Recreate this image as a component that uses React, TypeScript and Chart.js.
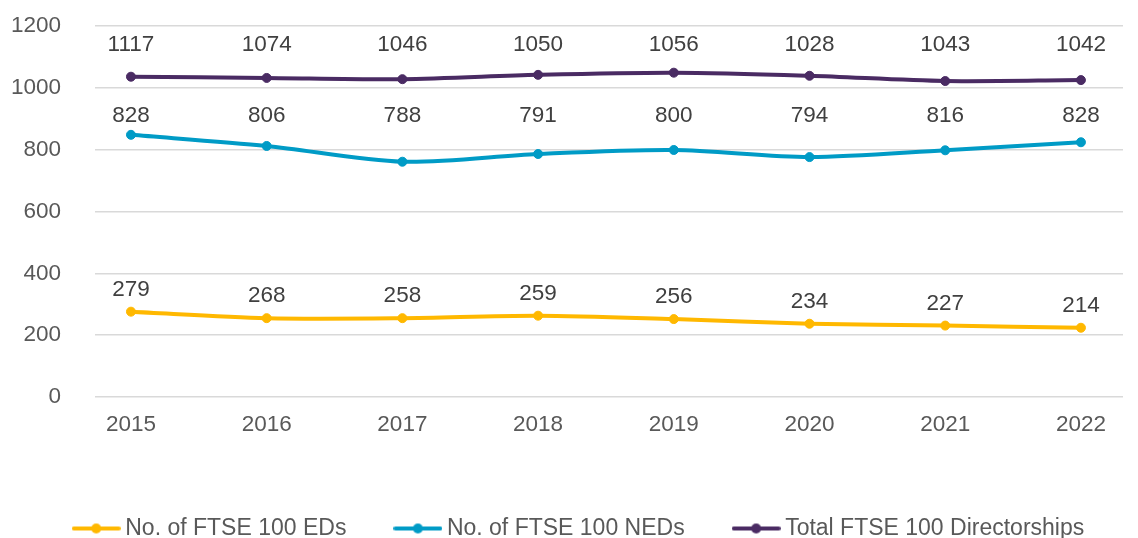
import React, { useEffect, useRef } from "react";
import { Chart, registerables } from "chart.js";

Chart.register(...registerables);

const years = ["2015", "2016", "2017", "2018", "2019", "2020", "2021", "2022"];

// plotted positions (as drawn in the reference)
const edValues = [276, 255, 255, 263, 252, 237, 231, 224];
const nedValues = [848, 812, 761, 786, 799, 776, 798, 824];
const totalValues = [1036, 1032, 1028, 1042, 1049, 1039, 1022, 1025];

// data label texts
const edLabels = ["279", "268", "258", "259", "256", "234", "227", "214"];
const nedLabels = ["828", "806", "788", "791", "800", "794", "816", "828"];
const totalLabels = ["1117", "1074", "1046", "1050", "1056", "1028", "1043", "1042"];

const yTicks = [0, 200, 400, 600, 800, 1000, 1200];

const seriesNames = ["No. of FTSE 100 EDs", "No. of FTSE 100 NEDs", "Total FTSE 100 Directorships"];

const YELLOW = "#FFB800";
const BLUE = "#009BC6";
const PURPLE = "#4A2B63";
const FONT = "'Liberation Sans', Arial, sans-serif";

function legendIcon(color: string): HTMLCanvasElement {
  const c = document.createElement("canvas");
  c.width = 49;
  c.height = 12;
  const ctx = c.getContext("2d")!;
  ctx.strokeStyle = color;
  ctx.lineWidth = 4;
  ctx.lineCap = "round";
  ctx.beginPath();
  ctx.moveTo(2, 6);
  ctx.lineTo(47, 6);
  ctx.stroke();
  ctx.fillStyle = color;
  ctx.beginPath();
  ctx.arc(24.5, 6, 5, 0, Math.PI * 2);
  ctx.fill();
  return c;
}

const labelPlugin = {
  id: "pointLabels",
  afterDatasetsDraw(chart: any) {
    const ctx = chart.ctx;
    ctx.save();
    ctx.font = `22.5px ${FONT}`;
    ctx.fillStyle = "#404040";
    ctx.textAlign = "center";
    ctx.textBaseline = "middle";
    chart.data.datasets.forEach((ds: any, i: number) => {
      const meta = chart.getDatasetMeta(i);
      const pts = meta.data;
      const minY = Math.min(...pts.map((p: any) => p.y));
      const level = minY - ds.labelLevelGap;
      pts.forEach((p: any, j: number) => {
        const y = Math.max(level, p.y - ds.labelGap);
        ctx.fillText(ds.pointLabels[j], p.x, y);
      });
    });
    ctx.restore();
  },
};

const legendShift = {
  id: "legendShift",
  afterLayout(chart: any) {
    const lg = chart.legend;
    if (lg) {
      lg.top += 12;
      lg.bottom += 12;
      lg.left += 20;
      lg.right += 20;
    }
  },
};

export default function App() {
  const ref = useRef<HTMLCanvasElement | null>(null);

  useEffect(() => {
    if (!ref.current) return;
    const icons = [legendIcon(YELLOW), legendIcon(BLUE), legendIcon(PURPLE)];
    const mk = (vals: number[]) => vals.map((v, i) => ({ x: Number(years[i]), y: v }));
    const common = {
      borderWidth: 4,
      pointRadius: 4.5,
      pointBorderWidth: 1,
      tension: 0.3,
    };
    const chart = new Chart(ref.current, {
      type: "line",
      data: {
        datasets: [
          {
            ...common,
            label: seriesNames[0],
            data: mk(edValues),
            borderColor: YELLOW,
            backgroundColor: YELLOW,
            pointLabels: edLabels,
            labelLevelGap: 22,
            labelGap: 22,
          } as any,
          {
            ...common,
            label: seriesNames[1],
            data: mk(nedValues),
            borderColor: BLUE,
            backgroundColor: BLUE,
            pointLabels: nedLabels,
            labelLevelGap: 19,
            labelGap: 1000,
          } as any,
          {
            ...common,
            label: seriesNames[2],
            data: mk(totalValues),
            borderColor: PURPLE,
            backgroundColor: PURPLE,
            pointLabels: totalLabels,
            labelLevelGap: 27.7,
            labelGap: 1000,
          } as any,
        ],
      },
      options: {
        responsive: false,
        animation: false,
        devicePixelRatio: 1,
        layout: { padding: { left: 0, right: 15, top: 26, bottom: 0 } },
        scales: {
          x: {
            type: "linear",
            min: 2014.735,
            max: 2022.31,
            grid: { display: false, drawTicks: false },
            border: { display: false },
            afterBuildTicks: (scale: any) => {
              scale.ticks = years.map((y) => ({ value: Number(y) }));
            },
            afterFit: (scale: any) => {
              scale.height = 54;
              scale.paddingLeft = 0;
              scale.paddingRight = 0;
            },
            ticks: {
              padding: 14.5,
              color: "#595959",
              font: { family: FONT, size: 22.5 },
              maxRotation: 0,
              autoSkip: false,
              callback: (v: any) => String(v),
            },
          },
          y: {
            type: "linear",
            min: yTicks[0],
            max: yTicks[yTicks.length - 1],
            grid: { color: "#D9D9D9", lineWidth: 1.5, drawTicks: false },
            border: { display: false },
            afterFit: (scale: any) => {
              scale.width = 95;
              scale.paddingTop = 0;
              scale.paddingBottom = 0;
            },
            afterBuildTicks: (scale: any) => {
              scale.ticks = yTicks.map((v) => ({ value: v }));
            },
            ticks: {
              padding: 34,
              color: "#595959",
              font: { family: FONT, size: 22.5 },
              callback: (v: any) => String(v),
            },
          },
        },
        plugins: {
          tooltip: { enabled: false },
          legend: {
            position: "bottom",
            labels: {
              usePointStyle: true,
              pointStyleWidth: 35,
              boxHeight: 10,
              padding: 54,
              color: "#595959",
              font: { family: FONT, size: 23 },
              generateLabels: (ch: any) => {
                const items = Chart.defaults.plugins.legend.labels.generateLabels(ch);
                return items.map((it: any, i: number) => ({ ...it, pointStyle: icons[i] }));
              },
            },
          },
        },
      } as any,
      plugins: [labelPlugin, legendShift],
    });
    return () => chart.destroy();
  }, []);

  return (
    <div style={{ position: "absolute", left: 0, top: 0, width: 1138, height: 538, background: "#fff" }}>
      <canvas ref={ref} width={1138} height={538} />
    </div>
  );
}
